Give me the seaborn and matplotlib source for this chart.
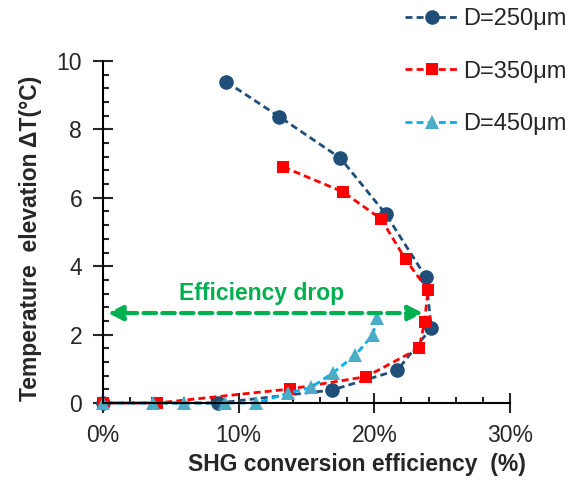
import numpy as np
import pandas as pd
import seaborn as sns
import matplotlib.pyplot as plt
from matplotlib.ticker import MultipleLocator, FuncFormatter

# values (efficiency in %, temperature rise in degC)
eff_250 = [9.1, 13.0, 17.5, 20.85, 23.8, 24.2, 21.7, 16.9, 8.5, 0.0]
dt_250 = [9.39, 8.37, 7.16, 5.52, 3.68, 2.2, 0.96, 0.38, 0.0, 0.0]
eff_350 = [13.3, 17.7, 20.5, 22.3, 23.95, 23.7, 23.3, 19.4, 13.8, 4.0, 0.0]
dt_350 = [6.9, 6.17, 5.38, 4.2, 3.3, 2.37, 1.6, 0.77, 0.41, 0.0, 0.0]
eff_450 = [20.2, 19.9, 18.6, 16.95, 15.35, 13.6, 11.3, 9.0, 6.0, 3.7, 0.0]
dt_450 = [2.5, 2.0, 1.4, 0.88, 0.46, 0.28, 0.0, 0.0, 0.0, 0.0, 0.0]
labels = ["D=250\u03bcm", "D=350\u03bcm", "D=450\u03bcm"]

sns.set_style("ticks")
plt.rcParams['font.family'] = ['Liberation Sans', 'DejaVu Sans']
fs = 16.5

fig = plt.figure(figsize=(5.7, 4.96), dpi=100)
ax = fig.add_axes([103 / 570, 93 / 496, 407 / 570, 342 / 496])

series = [
    (eff_250, dt_250, labels[0], '#1F4E79', '#1F4E79', 'o', 10.5),
    (eff_350, dt_350, labels[1], '#FF0000', '#FF0000', 's', 9),
    (eff_450, dt_450, labels[2], '#00B0F0', '#4BACC6', '^', 10),
]
for xs, ys, lab, lc, mc, mk, ms in series:
    sns.lineplot(x=xs, y=ys, ax=ax, sort=False, estimator=None, label=lab,
                 color=lc, marker=mk, markersize=ms, markerfacecolor=mc,
                 markeredgecolor=mc, markeredgewidth=0, lw=2,
                 linestyle=(0, (2.5, 1.5)), clip_on=False)

# efficiency drop arrow
ax.annotate('', xy=(0.35, 2.63), xytext=(23.6, 2.63),
            arrowprops=dict(arrowstyle='<|-|>', color='#00B050', lw=3,
                            linestyle=(0, (3, 1.5)), mutation_scale=22,
                            shrinkA=0, shrinkB=0))
ax.text(11.7, 3.2, 'Efficiency drop', color='#00B050', fontsize=fs,
        fontweight='bold', ha='center', va='center')

ax.set_xlim(0, 30)
ax.set_ylim(0, 10)
ax.xaxis.set_major_locator(MultipleLocator(10))
ax.xaxis.set_minor_locator(MultipleLocator(2))
ax.yaxis.set_major_locator(MultipleLocator(2))
ax.yaxis.set_minor_locator(MultipleLocator(0.4))
ax.xaxis.set_major_formatter(FuncFormatter(lambda v, p: f"{v:.0f}%"))
ax.tick_params(which='major', direction='inout', length=14, width=1.5,
               labelsize=fs, pad=8)
ax.tick_params(which='minor', direction='in', length=4, width=1.5)
sns.despine(ax=ax)
for s in ['left', 'bottom']:
    ax.spines[s].set_linewidth(1.5)
    ax.spines[s].set_color('black')

ax.set_xlabel('SHG conversion efficiency  (%)', fontsize=fs, fontweight='bold')
ax.set_ylabel('Temperature  elevation \u0394T(\u00b0C)', fontsize=fs,
              fontweight='bold')
ax.xaxis.set_label_coords(0.624, -0.145)
ax.yaxis.set_label_coords(-0.15, 0.482)

ax.legend(loc='upper left', bbox_to_anchor=(405 / 570, 1 - 8 / 496),
          bbox_transform=fig.transFigure, frameon=False, fontsize=17,
          borderpad=0, borderaxespad=0, handlelength=2.3,
          handletextpad=0.15, labelspacing=1.3)

fig.savefig('out.png', dpi=100)
